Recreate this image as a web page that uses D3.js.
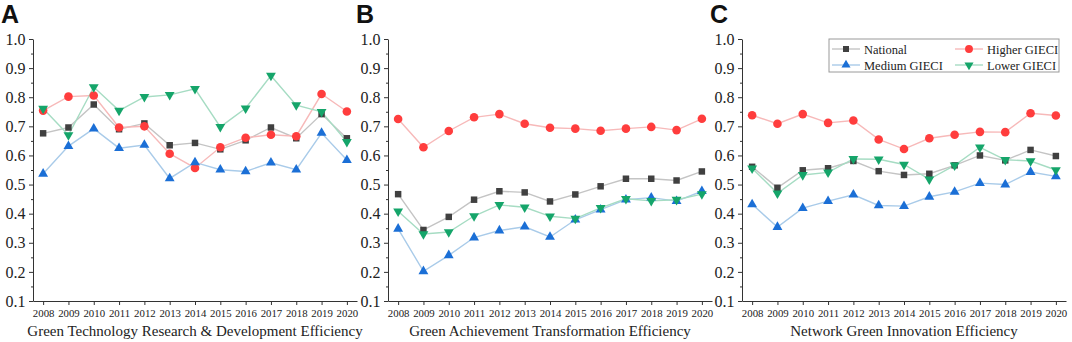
<!DOCTYPE html>
<html>
<head>
<meta charset="utf-8">
<script src="https://cdn.jsdelivr.net/npm/d3@7"></script>
<style>
    body { margin: 0; background: #fff; }
    svg { display: block; }
</style>
</head>
<body>
<div id="chart"></div>
<script>
// years on the x axis
const years = ['2008', '2009', '2010', '2011', '2012', '2013', '2014', '2015', '2016', '2017', '2018', '2019', '2020']
const yTicks = [0.1, 0.2, 0.3, 0.4, 0.5, 0.6, 0.7, 0.8, 0.9, 1.0]

// panel A - green technology R&D efficiency
const rdNational = [0.676, 0.696, 0.775, 0.690, 0.710, 0.635, 0.643, 0.621, 0.652, 0.696, 0.659, 0.742, 0.659]
const rdHigher = [0.754, 0.802, 0.806, 0.696, 0.700, 0.606, 0.557, 0.628, 0.661, 0.671, 0.666, 0.811, 0.751]
const rdMedium = [0.537, 0.632, 0.692, 0.625, 0.636, 0.521, 0.576, 0.551, 0.545, 0.575, 0.551, 0.677, 0.584]
const rdLower = [0.761, 0.670, 0.835, 0.754, 0.801, 0.808, 0.829, 0.698, 0.762, 0.874, 0.773, 0.750, 0.647]

// panel B - green achievement transformation efficiency
const atNational = [0.467, 0.344, 0.389, 0.448, 0.477, 0.473, 0.442, 0.466, 0.494, 0.520, 0.520, 0.514, 0.545]
const atHigher = [0.725, 0.628, 0.684, 0.731, 0.742, 0.709, 0.695, 0.692, 0.685, 0.692, 0.698, 0.687, 0.726]
const atMedium = [0.348, 0.202, 0.257, 0.318, 0.342, 0.355, 0.320, 0.379, 0.414, 0.448, 0.455, 0.443, 0.477]
const atLower = [0.408, 0.330, 0.337, 0.392, 0.430, 0.422, 0.391, 0.383, 0.420, 0.451, 0.444, 0.448, 0.467]

// panel C - network green innovation efficiency
const ngNational = [0.561, 0.489, 0.549, 0.556, 0.581, 0.546, 0.533, 0.537, 0.566, 0.600, 0.583, 0.619, 0.598]
const ngHigher = [0.738, 0.709, 0.742, 0.712, 0.720, 0.655, 0.622, 0.659, 0.671, 0.681, 0.680, 0.745, 0.737]
const ngMedium = [0.432, 0.354, 0.419, 0.443, 0.465, 0.428, 0.426, 0.458, 0.475, 0.505, 0.500, 0.543, 0.528]
const ngLower = [0.556, 0.470, 0.533, 0.542, 0.588, 0.587, 0.569, 0.518, 0.566, 0.628, 0.585, 0.581, 0.550]

const seriesNames = ['National', 'Higher GIECI', 'Medium GIECI', 'Lower GIECI']

const width = 1072
const height = 342
const serif = "'Liberation Serif', 'Times New Roman', Times, serif"

// look of each series: marker colour, line colour, symbol
const styles = [
    { fill: '#404040', line: '#c4c4c4', symbol: d3.symbolSquare, size: 42, rotate: 0 },
    { fill: '#ff3d3d', line: '#f7b9b9', symbol: d3.symbolCircle, size: 58, rotate: 0 },
    { fill: '#1b6fd6', line: '#a9cbe9', symbol: d3.symbolTriangle, size: 42, rotate: 0 },
    { fill: '#15a56a', line: '#a6dcc3', symbol: d3.symbolTriangle, size: 42, rotate: 180 },
]

const panels = [
    { letter: 'A', left: 33, title: 'Green Technology Research & Development Efficiency', series: [rdNational, rdHigher, rdMedium, rdLower] },
    { letter: 'B', left: 388, title: 'Green Achievement Transformation Efficiency', series: [atNational, atHigher, atMedium, atLower] },
    { letter: 'C', left: 742, title: 'Network Green Innovation Efficiency', series: [ngNational, ngHigher, ngMedium, ngLower] },
]

const svg = d3
    .select('#chart')
    .append('svg')
    .attr('width', width)
    .attr('height', height)

const plotTop = 39
const plotBottom = 301
const plotWidth = 324

panels.forEach((p) => {
    const g = svg.append('g')

    // scales
    const x = d3.scalePoint().domain(years).range([p.left, p.left + plotWidth]).padding(0.4)
    const y = d3.scaleLinear().domain([0.1, 1.0]).range([plotBottom, plotTop])

    // minor y ticks
    g.append('g')
        .attr('transform', `translate(${p.left},0)`)
        .call(
            d3.axisLeft(y)
                .tickValues(yTicks.slice(0, -1).map((d) => d + 0.05))
                .tickSize(2)
                .tickFormat('')
        )
        .call((a) => a.select('.domain').remove())
        .call((a) => a.selectAll('line').attr('stroke', '#333'))

    // y axis
    g.append('g')
        .attr('transform', `translate(${p.left},0)`)
        .call(d3.axisLeft(y).tickValues(yTicks).tickFormat(d3.format('.1f')).tickSize(4).tickSizeOuter(0))
        .call((a) =>
            a.selectAll('text')
                .attr('x', -7.5)
                .attr('fill', '#222')
                .style('font-family', serif)
                .style('font-size', '16px')
        )
        .call((a) => a.selectAll('line, path').attr('stroke', '#333'))

    // x axis
    g.append('g')
        .attr('transform', `translate(0,${plotBottom})`)
        .call(d3.axisBottom(x).tickSize(4).tickSizeOuter(0))
        .call((a) =>
            a.selectAll('text')
                .attr('y', 8.5)
                .attr('fill', '#222')
                .style('font-family', serif)
                .style('font-size', '10.8px')
        )
        .call((a) => a.selectAll('line, path').attr('stroke', '#333'))

    // axis title
    g.append('text')
        .attr('x', p.left + plotWidth / 2)
        .attr('y', 335.5)
        .attr('text-anchor', 'middle')
        .style('font-family', serif)
        .style('font-size', '15px')
        .attr('fill', '#222')
        .text(p.title)

    // panel letter
    g.append('text')
        .attr('x', p.left - 32)
        .attr('y', 23)
        .style('font-family', "'Liberation Sans', Arial, sans-serif")
        .style('font-weight', 'bold')
        .style('font-size', '25px')
        .attr('fill', '#111')
        .text(p.letter)

    // lines
    const line = d3
        .line()
        .x((d, i) => x(years[i]))
        .y((d) => y(d))

    p.series.forEach((values, si) => {
        g.append('path')
            .datum(values)
            .attr('fill', 'none')
            .attr('stroke', styles[si].line)
            .attr('stroke-width', 1.4)
            .attr('d', line)
    })

    // markers drawn after all lines
    p.series.forEach((values, si) => {
        const st = styles[si]
        g.append('g')
            .selectAll('path')
            .data(values)
            .enter()
            .append('path')
            .attr('d', d3.symbol().type(st.symbol).size(st.size))
            .attr('fill', st.fill)
            .attr('transform', (d, i) => `translate(${x(years[i])},${y(d)}) rotate(${st.rotate})`)
    })
})

// legend in panel C
const legend = svg.append('g').attr('transform', 'translate(829,39)')
legend.append('rect')
    .attr('width', 230)
    .attr('height', 33)
    .attr('fill', '#fff')
    .attr('stroke', '#9a9a9a')
    .attr('stroke-width', 1)

const legendPos = [[3, 10], [126, 10], [3, 26], [126, 26]]
seriesNames.forEach((name, i) => {
    const st = styles[i]
    const [lx, ly] = legendPos[i]
    const item = legend.append('g').attr('transform', `translate(${lx},${ly})`)
    item.append('line')
        .attr('x1', 0)
        .attr('x2', 28)
        .attr('stroke', st.line)
        .attr('stroke-width', 1.4)
    item.append('path')
        .attr('d', d3.symbol().type(st.symbol).size(st.size * 0.85)())
        .attr('fill', st.fill)
        .attr('transform', `translate(14,0) rotate(${st.rotate})`)
    item.append('text')
        .attr('x', 32)
        .attr('y', 4.5)
        .style('font-family', serif)
        .style('font-size', '12.5px')
        .attr('fill', '#222')
        .text(name)
})
</script>
</body>
</html>
